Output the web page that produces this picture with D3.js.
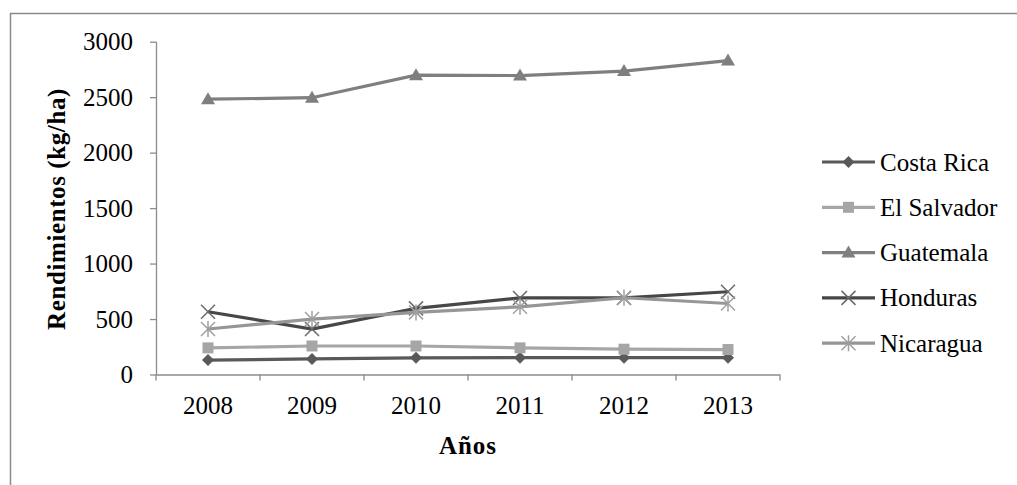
<!DOCTYPE html>
<html><head><meta charset="utf-8">
<script src="https://cdn.jsdelivr.net/npm/d3@7"></script>
<style>body{margin:0;background:#fff}svg{display:block}svg text{font-family:"Liberation Serif","Times New Roman",Times,Tinos,"DejaVu Serif",serif !important;fill:#000}</style>
</head><body><svg id="c" width="1017" height="485"></svg>
<script>
const years = ["2008","2009","2010","2011","2012","2013"];
const yTicks = [0,500,1000,1500,2000,2500,3000];
const costaRica = [130,140,150,152,152,152];
const elSalvador = [240,257,257,240,228,225];
const guatemala = [2482,2495,2698,2695,2735,2830];
const honduras = [566,410,596,690,690,746];
const nicaragua = [410,500,560,610,692,640];
const seriesNames = ["Costa Rica","El Salvador","Guatemala","Honduras","Nicaragua"];
const seriesValues = [costaRica,elSalvador,guatemala,honduras,nicaragua];
const colors = ["#595959","#a6a6a6","#7f7f7f","#474747","#969696"];
const shapes = ["diamond","square","triangle","x","asterisk"];

const svg = d3.select("#c");
svg.append("rect").attr("x",10.5).attr("y",13.5).attr("width",1020).attr("height",490)
  .attr("fill","none").attr("stroke","#8a8a8a").attr("stroke-width",1.5);

const L=156, R=780, T=41.7, B=374.5;
const x = d3.scaleBand().domain(years).range([L,R]);
const y = d3.scaleLinear().domain([0,3000]).range([B,T]);

const yAxis = svg.append("g").attr("transform",`translate(${L},0)`)
  .call(d3.axisLeft(y).tickValues(yTicks).tickSize(6).tickPadding(17).tickFormat(d3.format("d")));
const xAxis = svg.append("g").attr("transform",`translate(0,${B})`)
  .call(d3.axisBottom(x).tickSize(0).tickPadding(22));
xAxis.selectAll(".tick").append("line").attr("x1",-x.bandwidth()/2).attr("x2",-x.bandwidth()/2).attr("y2",6);
xAxis.append("line").attr("x1",R).attr("x2",R).attr("y2",6);
[yAxis,xAxis].forEach(a=>{
  a.attr("font-family",null);
  a.selectAll("path,line").attr("stroke","#8c8c8c").attr("stroke-width",1.3);
  a.selectAll("text").attr("font-size",25).attr("fill","#000");
});
xAxis.select(".domain").attr("d",`M${L},0.5H${R}`);
yAxis.select(".domain").attr("d",`M0.5,${T}V${B}`);

svg.append("text").attr("x",468).attr("y",454).attr("text-anchor","middle")
  .attr("font-size",25).attr("font-weight","bold").attr("letter-spacing",1).text("Años");
svg.append("text").attr("transform",`translate(65,209) rotate(-90)`).attr("text-anchor","middle")
  .attr("font-size",25).attr("font-weight","bold").attr("letter-spacing",0.6).text("Rendimientos (kg/ha)");

function marker(g, shape, color){
  if(shape==="diamond") g.append("path").attr("d","M0,-6L6,0L0,6L-6,0Z").attr("fill",color);
  else if(shape==="square") g.append("rect").attr("x",-5.5).attr("y",-5.5).attr("width",11).attr("height",11).attr("fill",color);
  else if(shape==="triangle") g.append("path").attr("d","M0,-7L7,5L-7,5Z").attr("fill",color);
  else if(shape==="x") g.append("path").attr("d","M-7,-7L7,7M-7,7L7,-7").attr("stroke",color).attr("stroke-width",1.5);
  else g.append("path").attr("d","M-7,-7L7,7M-7,7L7,-7M0,-8V8").attr("stroke",color).attr("stroke-width",1.5);
}

const line = d3.line().x((d,i)=>x(years[i])+x.bandwidth()/2).y(d=>y(d));
seriesValues.forEach((vals,si)=>{
  const g = svg.append("g");
  g.append("path").datum(vals).attr("d",line).attr("fill","none").attr("stroke",colors[si]).attr("stroke-width",3.2);
  vals.forEach((v,i)=>{
    const m = g.append("g").attr("transform",`translate(${x(years[i])+x.bandwidth()/2},${y(v)})`);
    marker(m, shapes[si], si>=3 ? (si===3?"#6a6a6a":"#a0a0a0") : colors[si]);
  });
});

const leg = svg.append("g");
seriesNames.forEach((n,i)=>{
  const cy = 162 + i*45.3;
  const g = leg.append("g").attr("transform",`translate(0,${cy})`);
  g.append("line").attr("x1",822).attr("x2",875).attr("stroke",colors[i]).attr("stroke-width",3.2);
  const m = g.append("g").attr("transform","translate(848.5,0)");
  marker(m, shapes[i], i>=3 ? (i===3?"#6a6a6a":"#a0a0a0") : colors[i]);
  g.append("text").attr("x",880).attr("y",8.5).attr("font-size",25).text(n);
});
</script></body></html>
